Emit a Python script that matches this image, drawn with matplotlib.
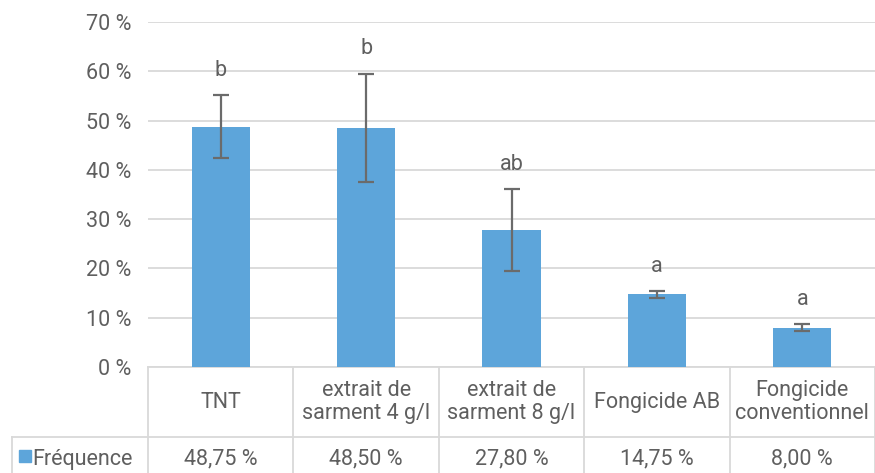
import matplotlib
matplotlib.use("Agg")
import matplotlib.pyplot as plt
import numpy as np

categories = ["TNT", "extrait de\nsarment 4 g/l", "extrait de\nsarment 8 g/l", "Fongicide AB", "Fongicide\nconventionnel"]
values = [48.75, 48.50, 27.80, 14.75, 8.00]
errors = [6.4, 11.0, 8.3, 0.65, 0.7]
letters = ["b", "b", "ab", "a", "a"]
value_labels = ["48,75 %", "48,50 %", "27,80 %", "14,75 %", "8,00 %"]
series_name = "Fréquence"
yticks = [0, 10, 20, 30, 40, 50, 60, 70]

plt.rcParams['font.family'] = ['Roboto', 'DejaVu Sans']
txt = '#5f5f5f'
grid = '#d9d9d9'
bar_c = '#5DA5DA'
fs = 15.5

W, H = 875, 473
fig = plt.figure(figsize=(W/100, H/100), dpi=100)
left, right, top, bottom = 148, 875, 22, 367
ax = fig.add_axes([left/W, 1-bottom/H, (right-left)/W, (bottom-top)/H])

x = np.arange(len(categories))
ax.bar(x, values, width=0.4, color=bar_c, zorder=3)
ax.errorbar(x, values, yerr=errors, fmt='none', ecolor='#6b6b6b', elinewidth=1.6,
            capsize=6, capthick=1.6, zorder=4)
for xi, v, e, l in zip(x, values, errors, letters):
    ax.annotate(l, (xi, v+e), xytext=(0, 18), textcoords='offset points',
                ha='center', va='center', fontsize=fs, color=txt)

ax.set_xlim(-0.5, len(categories)-0.5)
ax.set_ylim(0, 70)
ax.set_yticks(yticks)
ax.set_yticklabels([f"{t} %" for t in yticks], fontsize=fs, color=txt)
ax.tick_params(axis='y', length=0, pad=12)
ax.tick_params(axis='x', length=0, labelbottom=False)
ax.yaxis.grid(True, color=grid, linewidth=1.3, zorder=0)
for s in ['top', 'right', 'left']:
    ax.spines[s].set_visible(False)
ax.spines['bottom'].set_color(grid)
ax.spines['bottom'].set_linewidth(1.3)

# data table
tr = ax.get_xaxis_transform()
axh = bottom - top
row_div = -(437 - bottom) / axh
fig_bot = -(H - bottom) / axh
row1_mid = -(402 - bottom) / axh
row2_mid = -(459 - bottom) / axh
px_per_cat = (right - left) / len(categories)
x_leftcol = -0.5 - (left - 12) / px_per_cat

kw = dict(color=grid, linewidth=1.3, transform=tr, clip_on=False)
ax.plot([x_leftcol, len(categories)-0.5], [row_div, row_div], **kw)
for b in np.arange(len(categories)+1) - 0.5:
    ax.plot([b, b], [0, fig_bot], **kw)
ax.plot([x_leftcol, x_leftcol], [row_div, fig_bot], **kw)

for xi, c, vl in zip(x, categories, value_labels):
    ax.text(xi, row1_mid, c, transform=tr, ha='center', va='center', fontsize=fs,
            color=txt, linespacing=1.1)
    ax.text(xi, row2_mid, vl, transform=tr, ha='center', va='center', fontsize=fs, color=txt)

x_sq = -0.5 - (left - 25) / px_per_cat
ax.plot([x_sq], [row2_mid+0.01], marker='s', markersize=8, color=bar_c, transform=tr, clip_on=False)
ax.text(-0.5 - (left - 32) / px_per_cat, row2_mid, series_name, transform=tr,
        ha='left', va='center', fontsize=fs, color=txt)

fig.savefig("out.png", dpi=100)
